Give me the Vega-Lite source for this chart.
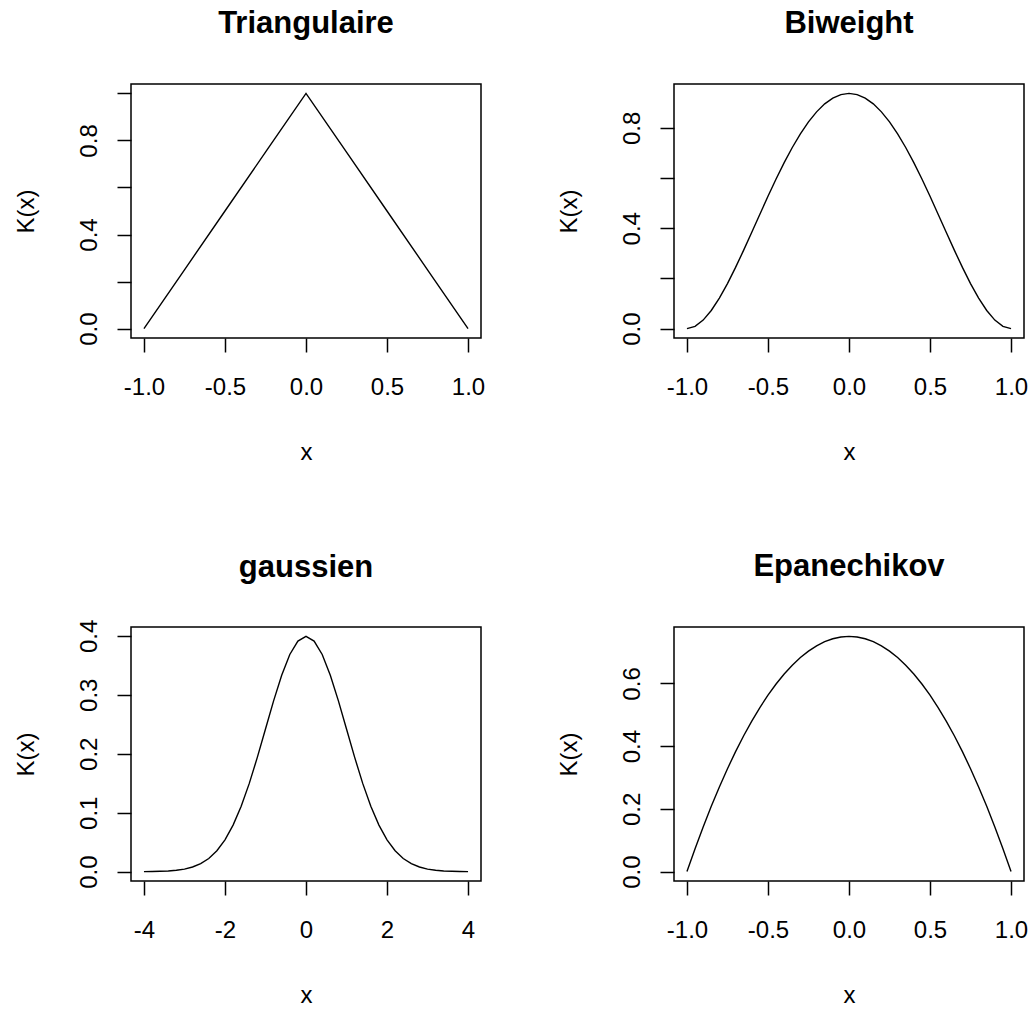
{
  "$schema": "https://vega.github.io/schema/vega-lite/v6.json",
  "padding": {"left": 13, "top": 7, "right": 0, "bottom": 0},
  "background": "white",
  "config": {
    "font": "Liberation Sans",
    "view": {"stroke": "black", "strokeWidth": 1.5},
    "axis": {
      "grid": false, "domain": false,
      "tickColor": "black", "tickSize": 14, "tickWidth": 1.5,
      "labelFont": "Liberation Sans", "labelFontSize": 24, "labelColor": "black",
      "titleFont": "Liberation Sans", "titleFontSize": 24, "titleFontWeight": "normal", "titleColor": "black",
      "labelBaseline": "alphabetic", "titleBaseline": "alphabetic", "labelOverlap": false
    },
    "axisX": {"labelPadding": 42, "titlePadding": 60, "labelAlign": "center"},
    "axisY": {"labelAngle": -90, "labelAlign": "center", "labelPadding": 21, "titlePadding": 44},
    "title": {"fontSize": 31, "fontWeight": "bold", "color": "black", "baseline": "alphabetic", "offset": 44, "frame": "group", "anchor": "middle", "font": "Liberation Sans"},
    "line": {"color": "black", "strokeWidth": 1.4}
  },
  "data": {"values": [
    {"kernel": "tri", "x": -1, "k": 0},
    {"kernel": "tri", "x": -0.75, "k": 0.25},
    {"kernel": "tri", "x": -0.5, "k": 0.5},
    {"kernel": "tri", "x": -0.25, "k": 0.75},
    {"kernel": "tri", "x": 0, "k": 1},
    {"kernel": "tri", "x": 0.25, "k": 0.75},
    {"kernel": "tri", "x": 0.5, "k": 0.5},
    {"kernel": "tri", "x": 0.75, "k": 0.25},
    {"kernel": "tri", "x": 1, "k": 0},

    {"kernel": "biw", "x": -1, "k": 0},
    {"kernel": "biw", "x": -0.95, "k": 0.00891},
    {"kernel": "biw", "x": -0.9, "k": 0.03384},
    {"kernel": "biw", "x": -0.85, "k": 0.07219},
    {"kernel": "biw", "x": -0.8, "k": 0.1215},
    {"kernel": "biw", "x": -0.75, "k": 0.17944},
    {"kernel": "biw", "x": -0.7, "k": 0.24384},
    {"kernel": "biw", "x": -0.65, "k": 0.31266},
    {"kernel": "biw", "x": -0.6, "k": 0.384},
    {"kernel": "biw", "x": -0.55, "k": 0.4561},
    {"kernel": "biw", "x": -0.5, "k": 0.52734},
    {"kernel": "biw", "x": -0.45, "k": 0.59626},
    {"kernel": "biw", "x": -0.4, "k": 0.6615},
    {"kernel": "biw", "x": -0.35, "k": 0.72188},
    {"kernel": "biw", "x": -0.3, "k": 0.77634},
    {"kernel": "biw", "x": -0.25, "k": 0.82397},
    {"kernel": "biw", "x": -0.2, "k": 0.864},
    {"kernel": "biw", "x": -0.15, "k": 0.89579},
    {"kernel": "biw", "x": -0.1, "k": 0.91884},
    {"kernel": "biw", "x": -0.05, "k": 0.93282},
    {"kernel": "biw", "x": 0, "k": 0.9375},
    {"kernel": "biw", "x": 0.05, "k": 0.93282},
    {"kernel": "biw", "x": 0.1, "k": 0.91884},
    {"kernel": "biw", "x": 0.15, "k": 0.89579},
    {"kernel": "biw", "x": 0.2, "k": 0.864},
    {"kernel": "biw", "x": 0.25, "k": 0.82397},
    {"kernel": "biw", "x": 0.3, "k": 0.77634},
    {"kernel": "biw", "x": 0.35, "k": 0.72188},
    {"kernel": "biw", "x": 0.4, "k": 0.6615},
    {"kernel": "biw", "x": 0.45, "k": 0.59626},
    {"kernel": "biw", "x": 0.5, "k": 0.52734},
    {"kernel": "biw", "x": 0.55, "k": 0.4561},
    {"kernel": "biw", "x": 0.6, "k": 0.384},
    {"kernel": "biw", "x": 0.65, "k": 0.31266},
    {"kernel": "biw", "x": 0.7, "k": 0.24384},
    {"kernel": "biw", "x": 0.75, "k": 0.17944},
    {"kernel": "biw", "x": 0.8, "k": 0.1215},
    {"kernel": "biw", "x": 0.85, "k": 0.07219},
    {"kernel": "biw", "x": 0.9, "k": 0.03384},
    {"kernel": "biw", "x": 0.95, "k": 0.00891},
    {"kernel": "biw", "x": 1, "k": 0},

    {"kernel": "gau", "x": -4, "k": 0.00013},
    {"kernel": "gau", "x": -3.8, "k": 0.00029},
    {"kernel": "gau", "x": -3.6, "k": 0.00061},
    {"kernel": "gau", "x": -3.4, "k": 0.00123},
    {"kernel": "gau", "x": -3.2, "k": 0.00238},
    {"kernel": "gau", "x": -3, "k": 0.00443},
    {"kernel": "gau", "x": -2.8, "k": 0.00792},
    {"kernel": "gau", "x": -2.6, "k": 0.01358},
    {"kernel": "gau", "x": -2.4, "k": 0.02239},
    {"kernel": "gau", "x": -2.2, "k": 0.03547},
    {"kernel": "gau", "x": -2, "k": 0.05399},
    {"kernel": "gau", "x": -1.8, "k": 0.07895},
    {"kernel": "gau", "x": -1.6, "k": 0.11092},
    {"kernel": "gau", "x": -1.4, "k": 0.14973},
    {"kernel": "gau", "x": -1.2, "k": 0.19419},
    {"kernel": "gau", "x": -1, "k": 0.24197},
    {"kernel": "gau", "x": -0.8, "k": 0.28969},
    {"kernel": "gau", "x": -0.6, "k": 0.33322},
    {"kernel": "gau", "x": -0.4, "k": 0.36827},
    {"kernel": "gau", "x": -0.2, "k": 0.39104},
    {"kernel": "gau", "x": 0, "k": 0.39894},
    {"kernel": "gau", "x": 0.2, "k": 0.39104},
    {"kernel": "gau", "x": 0.4, "k": 0.36827},
    {"kernel": "gau", "x": 0.6, "k": 0.33322},
    {"kernel": "gau", "x": 0.8, "k": 0.28969},
    {"kernel": "gau", "x": 1, "k": 0.24197},
    {"kernel": "gau", "x": 1.2, "k": 0.19419},
    {"kernel": "gau", "x": 1.4, "k": 0.14973},
    {"kernel": "gau", "x": 1.6, "k": 0.11092},
    {"kernel": "gau", "x": 1.8, "k": 0.07895},
    {"kernel": "gau", "x": 2, "k": 0.05399},
    {"kernel": "gau", "x": 2.2, "k": 0.03547},
    {"kernel": "gau", "x": 2.4, "k": 0.02239},
    {"kernel": "gau", "x": 2.6, "k": 0.01358},
    {"kernel": "gau", "x": 2.8, "k": 0.00792},
    {"kernel": "gau", "x": 3, "k": 0.00443},
    {"kernel": "gau", "x": 3.2, "k": 0.00238},
    {"kernel": "gau", "x": 3.4, "k": 0.00123},
    {"kernel": "gau", "x": 3.6, "k": 0.00061},
    {"kernel": "gau", "x": 3.8, "k": 0.00029},
    {"kernel": "gau", "x": 4, "k": 0.00013},

    {"kernel": "epa", "x": -1, "k": 0},
    {"kernel": "epa", "x": -0.95, "k": 0.073125},
    {"kernel": "epa", "x": -0.9, "k": 0.1425},
    {"kernel": "epa", "x": -0.85, "k": 0.208125},
    {"kernel": "epa", "x": -0.8, "k": 0.27},
    {"kernel": "epa", "x": -0.75, "k": 0.328125},
    {"kernel": "epa", "x": -0.7, "k": 0.3825},
    {"kernel": "epa", "x": -0.65, "k": 0.433125},
    {"kernel": "epa", "x": -0.6, "k": 0.48},
    {"kernel": "epa", "x": -0.55, "k": 0.523125},
    {"kernel": "epa", "x": -0.5, "k": 0.5625},
    {"kernel": "epa", "x": -0.45, "k": 0.598125},
    {"kernel": "epa", "x": -0.4, "k": 0.63},
    {"kernel": "epa", "x": -0.35, "k": 0.658125},
    {"kernel": "epa", "x": -0.3, "k": 0.6825},
    {"kernel": "epa", "x": -0.25, "k": 0.703125},
    {"kernel": "epa", "x": -0.2, "k": 0.72},
    {"kernel": "epa", "x": -0.15, "k": 0.733125},
    {"kernel": "epa", "x": -0.1, "k": 0.7425},
    {"kernel": "epa", "x": -0.05, "k": 0.748125},
    {"kernel": "epa", "x": 0, "k": 0.75},
    {"kernel": "epa", "x": 0.05, "k": 0.748125},
    {"kernel": "epa", "x": 0.1, "k": 0.7425},
    {"kernel": "epa", "x": 0.15, "k": 0.733125},
    {"kernel": "epa", "x": 0.2, "k": 0.72},
    {"kernel": "epa", "x": 0.25, "k": 0.703125},
    {"kernel": "epa", "x": 0.3, "k": 0.6825},
    {"kernel": "epa", "x": 0.35, "k": 0.658125},
    {"kernel": "epa", "x": 0.4, "k": 0.63},
    {"kernel": "epa", "x": 0.45, "k": 0.598125},
    {"kernel": "epa", "x": 0.5, "k": 0.5625},
    {"kernel": "epa", "x": 0.55, "k": 0.523125},
    {"kernel": "epa", "x": 0.6, "k": 0.48},
    {"kernel": "epa", "x": 0.65, "k": 0.433125},
    {"kernel": "epa", "x": 0.7, "k": 0.3825},
    {"kernel": "epa", "x": 0.75, "k": 0.328125},
    {"kernel": "epa", "x": 0.8, "k": 0.27},
    {"kernel": "epa", "x": 0.85, "k": 0.208125},
    {"kernel": "epa", "x": 0.9, "k": 0.1425},
    {"kernel": "epa", "x": 0.95, "k": 0.073125},
    {"kernel": "epa", "x": 1, "k": 0}
  ]},
  "columns": 2,
  "spacing": {"row": 85, "column": 70},
  "concat": [
    {
      "title": "Triangulaire",
      "width": 350, "height": 254,
      "transform": [{"filter": "datum.kernel == 'tri'"}],
      "mark": {"type": "line"},
      "encoding": {
        "x": {"field": "x", "type": "quantitative", "title": "x",
          "scale": {"domain": [-1.08, 1.08], "nice": false, "zero": false},
          "axis": {"values": [-1, -0.5, 0, 0.5, 1], "labelExpr": "datum.value < 0 ? '-' + format(-datum.value, '.1f') : format(datum.value, '.1f')"}},
        "y": {"field": "k", "type": "quantitative", "title": "K(x)",
          "scale": {"domain": [-0.04, 1.04], "nice": false, "zero": false},
          "axis": {"values": [0, 0.2, 0.4, 0.6, 0.8, 1], "labelExpr": "(datum.value == 0 || datum.value == 0.4 || datum.value == 0.8) ? format(datum.value, '.1f') : ''"}}
      }
    },
    {
      "title": "Biweight",
      "width": 350, "height": 254,
      "transform": [{"filter": "datum.kernel == 'biw'"}],
      "mark": {"type": "line"},
      "encoding": {
        "x": {"field": "x", "type": "quantitative", "title": "x",
          "scale": {"domain": [-1.08, 1.08], "nice": false, "zero": false},
          "axis": {"values": [-1, -0.5, 0, 0.5, 1], "labelExpr": "datum.value < 0 ? '-' + format(-datum.value, '.1f') : format(datum.value, '.1f')"}},
        "y": {"field": "k", "type": "quantitative", "title": "K(x)",
          "scale": {"domain": [-0.0375, 0.975], "nice": false, "zero": false},
          "axis": {"values": [0, 0.2, 0.4, 0.6, 0.8], "labelExpr": "(datum.value == 0 || datum.value == 0.4 || datum.value == 0.8) ? format(datum.value, '.1f') : ''"}}
      }
    },
    {
      "title": {"text": "gaussien", "offset": 35},
      "width": 350, "height": 254,
      "transform": [{"filter": "datum.kernel == 'gau'"}],
      "mark": {"type": "line"},
      "encoding": {
        "x": {"field": "x", "type": "quantitative", "title": "x",
          "scale": {"domain": [-4.32, 4.32], "nice": false, "zero": false},
          "axis": {"values": [-4, -2, 0, 2, 4], "labelExpr": "datum.value < 0 ? '-' + format(-datum.value, 'd') : format(datum.value, 'd')"}},
        "y": {"field": "k", "type": "quantitative", "title": "K(x)",
          "scale": {"domain": [-0.0158, 0.4149], "nice": false, "zero": false},
          "axis": {"values": [0, 0.1, 0.2, 0.3, 0.4], "labelExpr": "format(datum.value, '.1f')"}}
      }
    },
    {
      "title": "Epanechikov",
      "width": 350, "height": 254,
      "transform": [{"filter": "datum.kernel == 'epa'"}],
      "mark": {"type": "line"},
      "encoding": {
        "x": {"field": "x", "type": "quantitative", "title": "x",
          "scale": {"domain": [-1.08, 1.08], "nice": false, "zero": false},
          "axis": {"values": [-1, -0.5, 0, 0.5, 1], "labelExpr": "datum.value < 0 ? '-' + format(-datum.value, '.1f') : format(datum.value, '.1f')"}},
        "y": {"field": "k", "type": "quantitative", "title": "K(x)",
          "scale": {"domain": [-0.03, 0.78], "nice": false, "zero": false},
          "axis": {"values": [0, 0.2, 0.4, 0.6], "labelExpr": "format(datum.value, '.1f')"}}
      }
    }
  ]
}
